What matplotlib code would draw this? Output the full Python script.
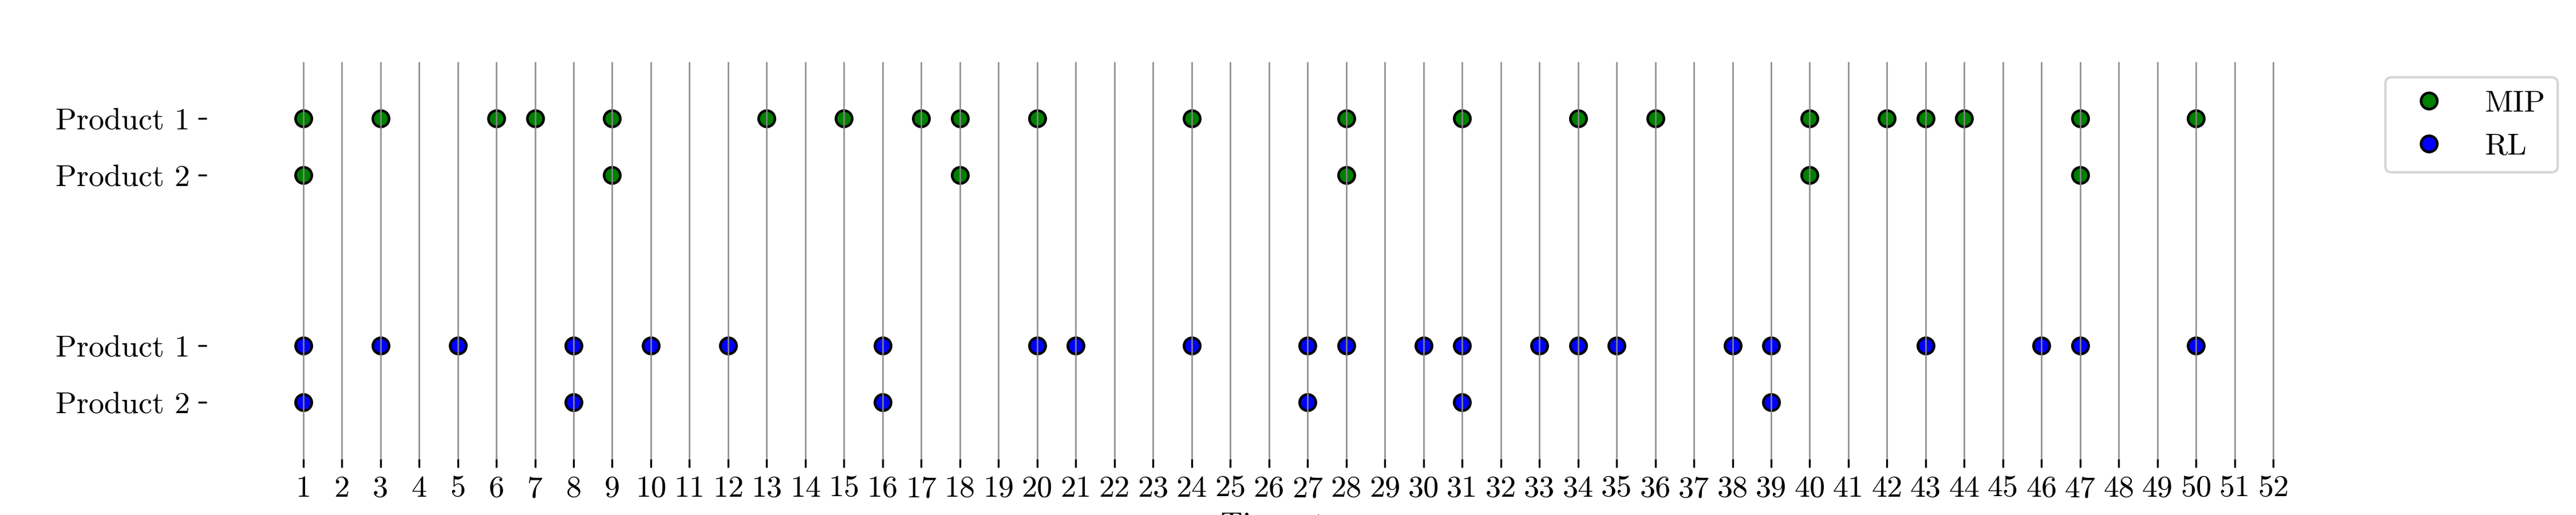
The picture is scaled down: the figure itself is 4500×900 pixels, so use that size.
import matplotlib.pyplot as plt

steps = list(range(1, 53))
rows = ["Product 1", "Product 2", "Product 1", "Product 2"]
row_pos = [5, 4, 1, 0]

mip_p1 = [1, 3, 6, 7, 9, 13, 15, 17, 18, 20, 24, 28, 31, 34, 36, 40, 42, 43, 44, 47, 50]
mip_p2 = [1, 9, 18, 28, 40, 47]
rl_p1 = [1, 3, 5, 8, 10, 12, 16, 20, 21, 24, 27, 28, 30, 31, 33, 34, 35, 38, 39, 43, 46, 47, 50]
rl_p2 = [1, 8, 16, 27, 31, 39]

plt.rcParams['font.family'] = ['cmr10', 'DejaVu Serif']
plt.rcParams['font.size'] = 13
plt.rcParams['axes.formatter.use_mathtext'] = True

fig = plt.figure(figsize=(15, 3), dpi=300)
ax = fig.add_axes([0.0802, 0.109, 0.92 - 0.0802, 0.88 - 0.109])

ms = 6.8
ax.plot(mip_p1, [row_pos[0]] * len(mip_p1), 'o', color='green', markeredgecolor='black',
        markeredgewidth=1.1, markersize=ms, label='MIP', zorder=2)
ax.plot(mip_p2, [row_pos[1]] * len(mip_p2), 'o', color='green', markeredgecolor='black',
        markeredgewidth=1.1, markersize=ms, zorder=2)
ax.plot(rl_p1, [row_pos[2]] * len(rl_p1), 'o', color='blue', markeredgecolor='black',
        markeredgewidth=1.1, markersize=ms, label='RL', zorder=2)
ax.plot(rl_p2, [row_pos[3]] * len(rl_p2), 'o', color='blue', markeredgecolor='black',
        markeredgewidth=1.1, markersize=ms, zorder=2)

ax.set_xlim(-1.5, 54.5)
ax.set_ylim(-1, 6)
ax.set_xticks(steps)
ax.set_xticklabels([str(s) for s in steps])
ax.set_yticks(row_pos)
ax.set_yticklabels(rows)

# vertical guide lines on top of the markers
ax.vlines(steps, -1, 6, colors='#888888', linewidth=0.6, zorder=3)

for s in ax.spines.values():
    s.set_visible(False)
ax.tick_params(axis='both', length=3.5, width=0.8, color='black')

ax.set_xlabel('Time step', labelpad=4)
ax.legend(loc='upper left', bbox_to_anchor=(1.0, 1.0), fontsize=13)

plt.savefig('out.png', dpi=300)
